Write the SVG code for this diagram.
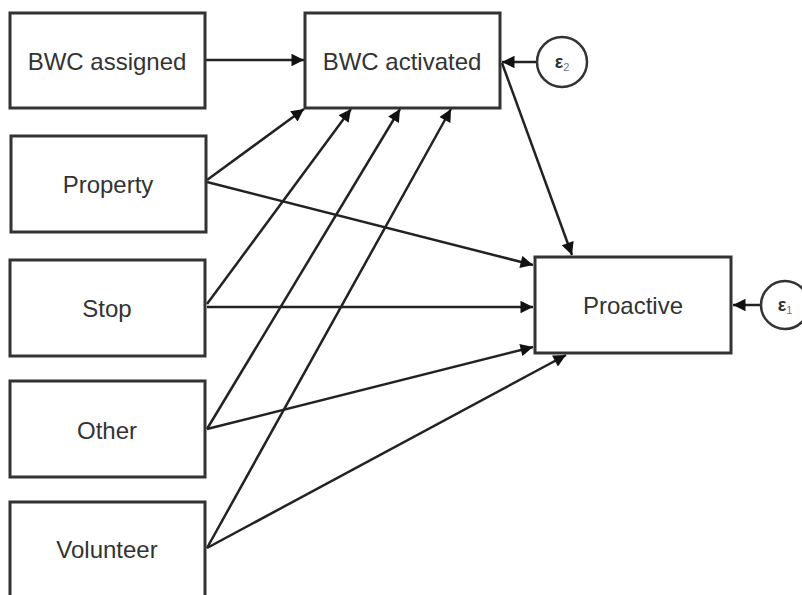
<svg xmlns="http://www.w3.org/2000/svg" width="802" height="595" viewBox="0 0 802 595">
<style>
.box{fill:#fff;stroke:#333;stroke-width:3}
.lbl{font-family:"Liberation Sans",Arial,sans-serif;font-size:24px;fill:#333;text-anchor:middle}
.eps{font-family:"Liberation Sans",Arial,sans-serif;font-size:18px;fill:#333;text-anchor:middle;font-weight:bold}
.sub{font-size:11px;font-weight:normal;fill:#777}
.edge{stroke:#222;stroke-width:2.5;fill:none;marker-end:url(#ah)}
.circ{fill:#fff;stroke:#333;stroke-width:2.5}
</style>
<defs>
<marker id="ah" viewBox="0 0 10 10" refX="10" refY="5" markerWidth="6" markerHeight="5" orient="auto" markerUnits="strokeWidth">
<path d="M0,0 L10,5 L0,10 z" fill="#111"/>
</marker>
</defs>
<rect width="802" height="595" fill="#fff"/>
<g id="connectors">
<line class="edge" x1="205" y1="60" x2="304" y2="60"/>
<line class="edge" x1="537" y1="62" x2="502" y2="62"/>
<line class="edge" x1="760" y1="305" x2="733" y2="305"/>
<line class="edge" x1="502" y1="63" x2="572" y2="255"/>
<line class="edge" x1="207" y1="180" x2="304" y2="109"/>
<line class="edge" x1="207" y1="304" x2="351" y2="109"/>
<line class="edge" x1="207" y1="429" x2="400" y2="109"/>
<line class="edge" x1="207" y1="548" x2="451" y2="109"/>
<line class="edge" x1="207" y1="182" x2="533" y2="265"/>
<line class="edge" x1="207" y1="307" x2="533" y2="307"/>
<line class="edge" x1="207" y1="429" x2="533" y2="347"/>
<line class="edge" x1="207" y1="548" x2="566" y2="355"/>
</g>
<g id="bwc_assigned"><rect class="box" x="10" y="13" width="195" height="95"/><text class="lbl" x="107" y="70">BWC assigned</text></g>
<g id="bwc_activated"><rect class="box" x="305" y="13" width="195" height="95"/><text class="lbl" x="402" y="70">BWC activated</text></g>
<g id="property"><rect class="box" x="11" y="136" width="195" height="96"/><text class="lbl" x="108" y="193">Property</text></g>
<g id="stop"><rect class="box" x="10" y="260" width="195" height="96"/><text class="lbl" x="107" y="317">Stop</text></g>
<g id="other"><rect class="box" x="10" y="381" width="195" height="96"/><text class="lbl" x="107" y="439">Other</text></g>
<g id="volunteer"><rect class="box" x="10" y="502" width="195" height="100"/><text class="lbl" x="107" y="558">Volunteer</text></g>
<g id="proactive"><rect class="box" x="535" y="257" width="196" height="96"/><text class="lbl" x="633" y="314">Proactive</text></g>
<g id="e2"><circle class="circ" cx="562" cy="62" r="25"/><text class="eps" x="562" y="68">ε<tspan class="sub" dy="3">2</tspan></text></g>
<g id="e1"><circle class="circ" cx="785" cy="305" r="24"/><text class="eps" x="785" y="311">ε<tspan class="sub" dy="3">1</tspan></text></g>
</svg>
